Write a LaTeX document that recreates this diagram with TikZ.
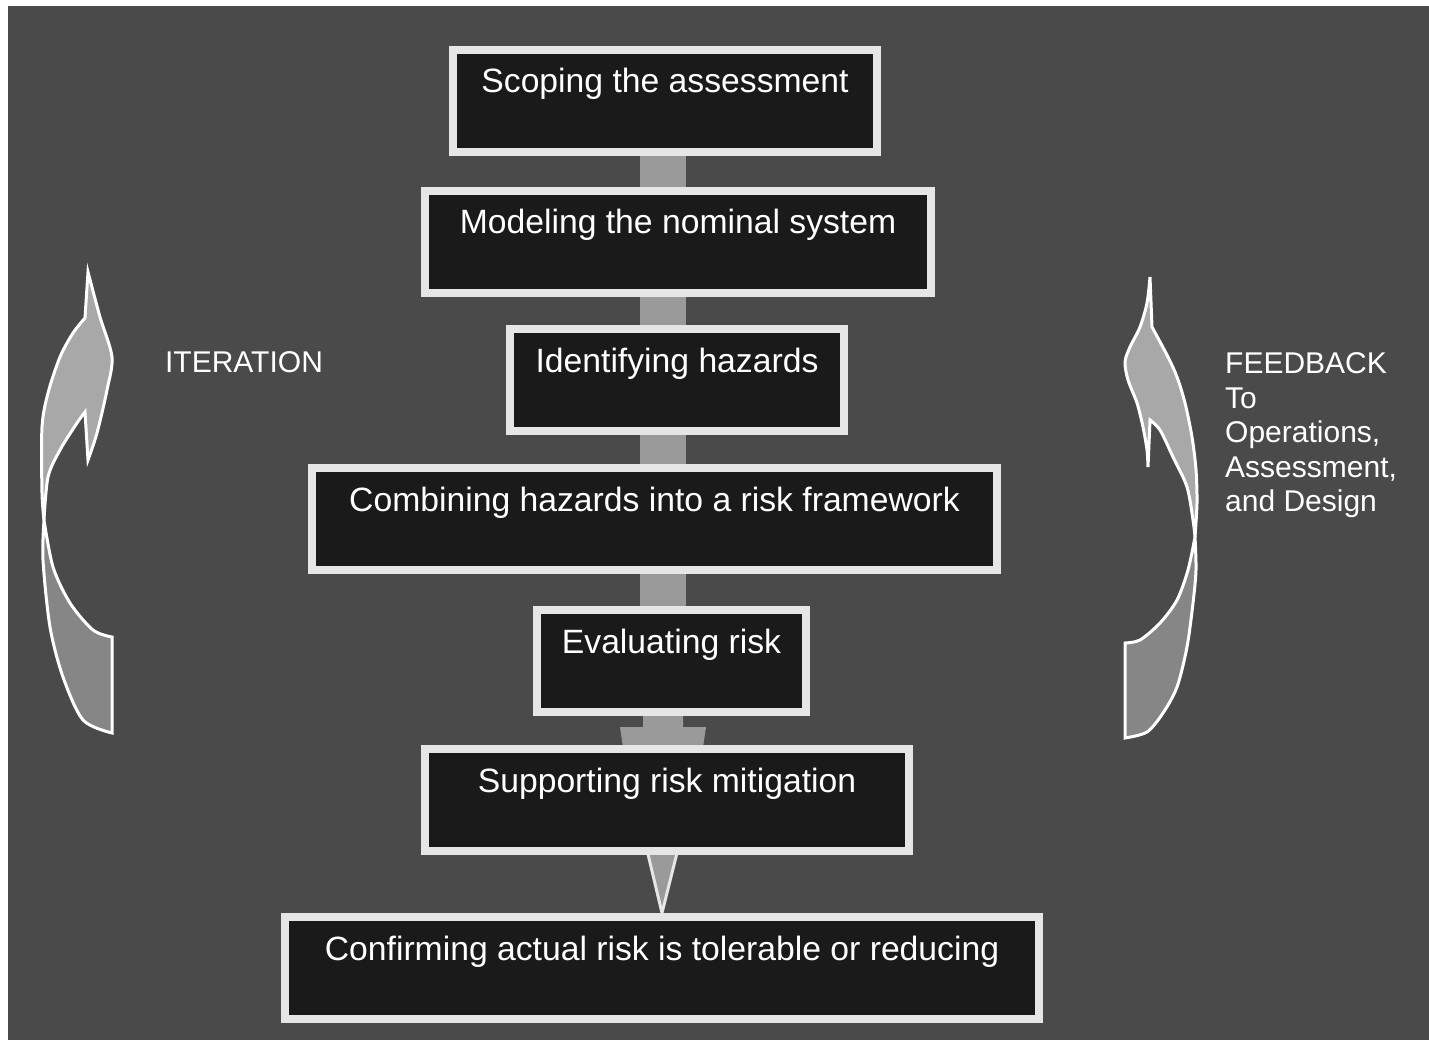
\documentclass[tikz,border=0pt]{standalone}
\usepackage{fontspec}
\setmainfont{Liberation Sans}
\usetikzlibrary{calc}
\pgfdeclarelayer{background}
\pgfsetlayers{background,main}
\definecolor{slate}{HTML}{4A4A4A}
\definecolor{boxfill}{HTML}{1A1A1A}
\definecolor{rim}{HTML}{E6E6E6}
\definecolor{shaft}{HTML}{9A9A9A}
\definecolor{bandlight}{HTML}{A8A8A8}
\definecolor{banddark}{HTML}{868686}
\tikzset{
  stepbox/.style={draw=rim, line width=8pt, fill=boxfill, text=white,
    inner xsep=0pt, inner ysep=0pt, outer sep=0pt,
    text height=43pt, text depth=59pt, anchor=north,
    font=\fontsize{33.7}{40}\selectfont},
  link/.style={draw=shaft, line width=46pt},
  headfill/.style={fill=shaft},
  tipfill/.style={fill=shaft, draw=rim, line width=3pt, line join=miter},
  bandup/.style={fill=bandlight, draw=white, line width=3pt, line join=miter},
  banddown/.style={fill=banddark, draw=white, line width=3pt, line join=miter},
  sidelabel/.style={text=white, inner sep=0pt, font=\fontsize{30}{34.5}\selectfont}
}
\begin{document}
\begin{tikzpicture}[x=1pt, y=-1pt]
\useasboundingbox (0,0) rectangle (1429,1040);

% process steps
\node[stepbox, minimum width=424pt] (scope)   at (665,50)    {Scoping the assessment};
\node[stepbox, minimum width=506pt] (model)   at (678,191)   {Modeling the nominal system};
\node[stepbox, minimum width=334pt] (ident)   at (677,329)   {Identifying hazards};
\node[stepbox, minimum width=685pt] (combine) at (654.5,468) {Combining hazards into a risk framework};
\node[stepbox, minimum width=269pt] (eval)    at (671.5,610) {Evaluating risk};
\node[stepbox, minimum width=484pt] (support) at (667,749)   {Supporting risk mitigation};
\node[stepbox, minimum width=754pt] (confirm) at (662,917)   {Confirming actual risk is tolerable or reducing};

\coordinate (spine) at (663,0);

\begin{pgfonlayer}{background}
  \fill[white] (0,0) rectangle (1429,1040);
  \fill[slate] (8,6) rectangle (1429,1040);
  % straight links down the column
  \draw[link] (scope.south -| spine)   -- (model.north -| spine);
  \draw[link] (model.south -| spine)   -- (ident.north -| spine);
  \draw[link] (ident.south -| spine)   -- (combine.north -| spine);
  \draw[link] (combine.south -| spine) -- (eval.north -| spine);
  % block arrow whose head slips under the next box
  \fill[headfill] ($(eval.south -| spine)+(-20,-2)$) -- ($(eval.south -| spine)+(20,-2)$)
     -- ($(eval.south -| spine)+(20,15)$) -- ($(eval.south -| spine)+(43,15)$)
     -- ($(support.north -| spine)+(38,12)$) -- ($(support.north -| spine)+(-38,12)$)
     -- ($(eval.south -| spine)+(-43,15)$) -- ($(eval.south -| spine)+(-20,15)$) -- cycle;
  % final pointer
  \draw[tipfill] ($(support.south -| spine)+(-21,-22)$) -- ($(support.south -| spine)+(20,-22)$)
     -- ($(confirm.north -| spine)+(-1,-4)$) -- cycle;
\end{pgfonlayer}

% left curved arrow (iteration)
\draw[bandup] (44,520) -- plot[smooth] coordinates {(44,520) (42,493) (42,427) (48,393) (60,357) (73,333) (85,318)}
   -- (88,272) -- plot[smooth] coordinates {(88,272) (100,317) (112,357) (107,390) (97,433) (88,460)}
   -- (85,412) -- plot[smooth] coordinates {(85,412) (77,423) (60,450) (48,477) (44,520)} -- cycle;
\draw[banddown] (44,520) -- plot[smooth] coordinates {(44,520) (43,560) (50,627) (63,677) (83,720) (112,733)}
   -- (112,637) -- plot[smooth] coordinates {(112,637) (93,630) (70,603) (53,567) (44,520)} -- cycle;

% right curved arrow (feedback)
\draw[bandup] (1195,537) -- plot[smooth] coordinates {(1195,537) (1197,503) (1196,470) (1192,437) (1185,403) (1177,377) (1168,357) (1152,327)}
   -- (1150,277) -- plot[smooth] coordinates {(1150,277) (1147,303) (1140,327) (1130,347) (1125,362) (1128,380) (1137,403) (1143,427) (1147,450) (1148,467)}
   -- (1150,420) -- plot[smooth] coordinates {(1150,420) (1160,430) (1173,457) (1187,487) (1193,520) (1195,537)} -- cycle;
\draw[banddown] (1195,537) -- plot[smooth] coordinates {(1195,537) (1196,570) (1193,603) (1187,647) (1177,687) (1163,713) (1147,732) (1125,738)}
   -- (1125,643) -- plot[smooth] coordinates {(1125,643) (1140,640) (1160,623) (1177,600) (1188,570) (1195,537)} -- cycle;

% side labels
\node[sidelabel] (iter) at (244,362) {ITERATION};
\node[sidelabel, align=left, anchor=north west] (feedback) at (1225,352.5)
  {FEEDBACK\\To\\Operations,\\Assessment,\\and Design};
\end{tikzpicture}
\end{document}
